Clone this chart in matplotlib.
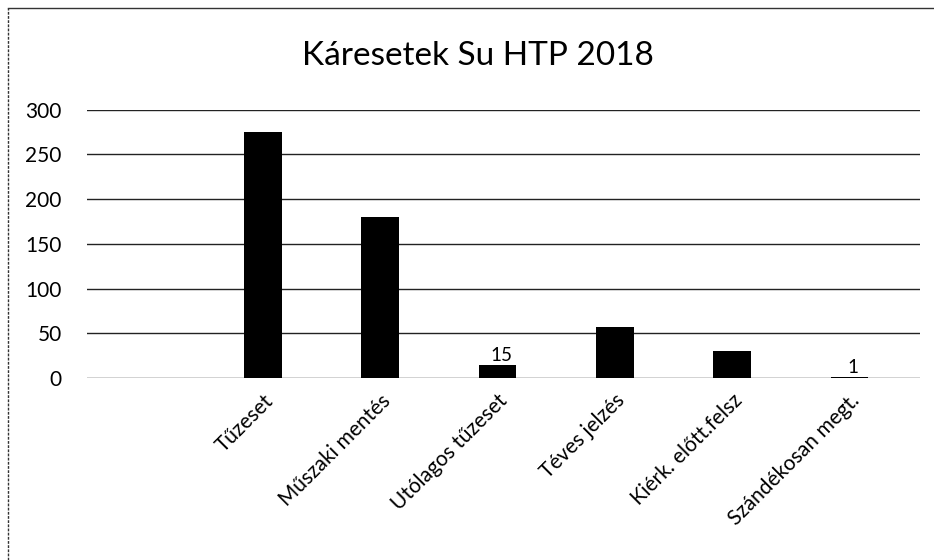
import matplotlib
matplotlib.use("Agg")
import matplotlib.pyplot as plt
from matplotlib.lines import Line2D

categories = ["Tűzeset", "Műszaki mentés", "Utólagos tűzeset", "Téves jelzés",
              "Kiérk. előtt.felsz", "Szándékosan megt."]
values = [275, 180, 15, 57, 30, 1]
labeled = {2: "15", 5: "1"}
yticks = [0, 50, 100, 150, 200, 250, 300]
title = "Káresetek Su HTP 2018"

plt.rcParams['font.family'] = ['Lato', 'DejaVu Sans']

fig = plt.figure(figsize=(9.34, 5.6), dpi=100)
ax = fig.add_axes([0.093, 0.325, 0.892, 0.479])

x = list(range(len(categories)))
ax.bar(x, values, width=0.32, color="black", zorder=3)
for i, txt in labeled.items():
    ax.text(i + 0.03, values[i] + 1, txt, ha="center", va="bottom", fontsize=13.5, color="black")

ax.set_xlim(-1.5, 5.6)
ax.set_ylim(0, 300)
ax.set_yticks(yticks)
ax.set_yticklabels([str(v) for v in yticks], fontsize=15)
ax.yaxis.grid(True, color="#222222", linewidth=1.0, zorder=0)
ax.set_axisbelow(True)
ax.tick_params(axis="y", length=0, pad=18)
ax.tick_params(axis="x", length=0, pad=9)
ax.set_xticks(x)
ax.set_xticklabels(categories, rotation=45, ha="right", rotation_mode="anchor", fontsize=15)
for s in ax.spines.values():
    s.set_visible(False)

fig.text(0.512, 0.900, title, ha="center", va="center", fontsize=24)

# outer frame (left and top)
fig.add_artist(Line2D([0.009, 0.009], [0.0, 0.985], transform=fig.transFigure,
                      color="#333333", linewidth=1.0, linestyle=(0, (2, 1))))
fig.add_artist(Line2D([0.009, 1.0], [0.985, 0.985], transform=fig.transFigure,
                      color="#333333", linewidth=1.0))

fig.savefig("out.png", dpi=100, facecolor="white")
